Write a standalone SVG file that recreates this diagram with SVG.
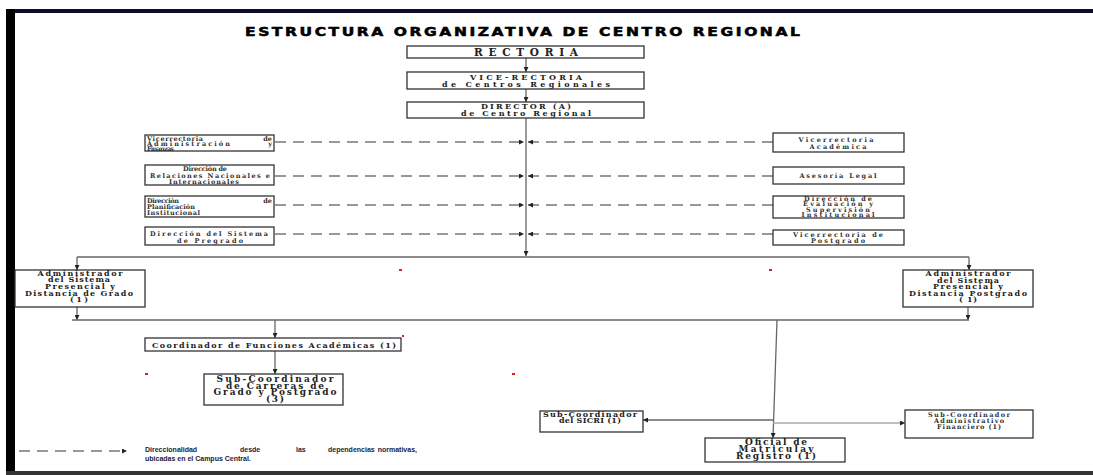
<svg xmlns="http://www.w3.org/2000/svg" width="1093" height="475" viewBox="0 0 1093 475">
<defs>
<marker id="ah" viewBox="0 0 6 6" refX="6" refY="3" markerWidth="5" markerHeight="5" orient="auto" markerUnits="userSpaceOnUse">
<path d="M0,0 L6,3 L0,6 z" fill="#222"/>
</marker>
<style>
.box{fill:#fff;stroke:#333;stroke-width:1.3}
.t{font-family:"DejaVu Serif","Liberation Serif",serif;font-weight:bold;fill:#222;text-anchor:middle}
.tl{font-family:"DejaVu Serif","Liberation Serif",serif;font-weight:bold;fill:#333}
.s{font-size:6.5px;fill:#333}
.m{font-size:8px}
.b{font-size:9px}
.sol{stroke:#666;stroke-width:1.3;fill:none}
.dash{stroke:#333;stroke-width:1;stroke-dasharray:11,7;fill:none}
.red{fill:#e21b1b}
</style>
</defs>
<rect width="1093" height="475" fill="#fff"/>
<g id="frame">
<rect x="6" y="9" width="1087" height="4" fill="#0b0b2a"/>
<rect x="6" y="9" width="9" height="463" fill="#000"/>
<rect x="6" y="471" width="1087" height="4" fill="#333"/>
</g>
<text transform="translate(245,35.5) scale(1.35,1)" x="0" y="0" font-family="DejaVu Sans, sans-serif" font-weight="bold" font-size="11.5" stroke="#000" stroke-width="0.5" textLength="411" lengthAdjust="spacing" fill="#000">ESTRUCTURA ORGANIZATIVA DE CENTRO REGIONAL</text>

<g id="connectors">
<line class="sol" x1="526" y1="58" x2="526" y2="72" marker-end="url(#ah)"/>
<line class="sol" x1="526" y1="89" x2="526" y2="102" marker-end="url(#ah)"/>
<line class="sol" x1="526" y1="118" x2="526" y2="256" marker-end="url(#ah)"/>
<line class="sol" x1="77" y1="257" x2="969" y2="257"/>
<line class="sol" x1="77" y1="257" x2="77" y2="270" marker-end="url(#ah)"/>
<line class="sol" x1="969" y1="257" x2="969" y2="270" marker-end="url(#ah)"/>
<line class="sol" x1="77" y1="307" x2="77" y2="320" marker-end="url(#ah)"/>
<line class="sol" x1="968" y1="307" x2="968" y2="320" marker-end="url(#ah)"/>
<line class="sol" x1="72" y1="320" x2="969" y2="320"/>
<line class="sol" x1="275" y1="320" x2="275" y2="338" marker-end="url(#ah)"/>
<line class="sol" x1="275" y1="351" x2="275" y2="374" marker-end="url(#ah)"/>
<line class="sol" x1="777" y1="320" x2="773" y2="438" marker-end="url(#ah)"/>
<line class="sol" x1="773" y1="420" x2="643" y2="420" marker-end="url(#ah)"/>
<line x1="773" y1="423" x2="905" y2="423" stroke="#aaa" stroke-width="1.3" marker-end="url(#ah)"/>
<line class="dash" x1="275" y1="142" x2="524" y2="142" marker-end="url(#ah)"/>
<line class="dash" x1="773" y1="142" x2="528" y2="142" marker-end="url(#ah)"/>
<line class="dash" x1="275" y1="176" x2="524" y2="176" marker-end="url(#ah)"/>
<line class="dash" x1="773" y1="176" x2="528" y2="176" marker-end="url(#ah)"/>
<line class="dash" x1="275" y1="205" x2="524" y2="205" marker-end="url(#ah)"/>
<line class="dash" x1="773" y1="205" x2="528" y2="205" marker-end="url(#ah)"/>
<line class="dash" x1="275" y1="234" x2="524" y2="234" marker-end="url(#ah)"/>
<line class="dash" x1="773" y1="234" x2="528" y2="234" marker-end="url(#ah)"/>
</g>

<g id="rectoria">
<rect class="box" x="407" y="46" width="237" height="12"/>
<text class="t" x="526" y="56" font-size="10.5" textLength="104" lengthAdjust="spacing">RECTORIA</text>
</g>
<g id="vicerrectoria-centros">
<rect class="box" x="407" y="72" width="237" height="17"/>
<text class="t m" x="526" y="79.5" textLength="112" lengthAdjust="spacing">VICE-RECTORIA</text>
<text class="t m" x="526" y="87" textLength="168" lengthAdjust="spacing">de Centros Regionales</text>
</g>
<g id="director">
<rect class="box" x="407" y="102" width="237" height="16"/>
<text class="t m" x="526" y="109" textLength="90" lengthAdjust="spacing">DIRECTOR (A)</text>
<text class="t m" x="526" y="116" textLength="130" lengthAdjust="spacing">de Centro Regional</text>
</g>

<g id="vr-administracion">
<rect class="box" x="145" y="135" width="129" height="16"/>
<text class="tl s" x="147" y="140.5" textLength="56" lengthAdjust="spacing">Vicerrectoria</text>
<text class="tl s" x="272" y="140.5" text-anchor="end">de</text>
<text class="tl s" x="147" y="145.5" textLength="83" lengthAdjust="spacing">Administración</text>
<text class="tl s" x="272" y="145.5" text-anchor="end">y</text>
<text class="tl s" x="147" y="150.5" textLength="27" lengthAdjust="spacing">Finanzas</text>
</g>
<g id="dir-relaciones">
<rect class="box" x="145" y="165" width="129" height="20"/>
<text class="t s" x="205" y="171" textLength="44" lengthAdjust="spacing">Dirección de</text>
<text class="t s" x="210" y="177.5" textLength="120" lengthAdjust="spacing">Relaciones Nacionales e</text>
<text class="t s" x="204" y="184" textLength="70" lengthAdjust="spacing">Internacionales</text>
</g>
<g id="dir-planificacion">
<rect class="box" x="145" y="196" width="129" height="21"/>
<text class="tl s" x="147" y="203" textLength="32" lengthAdjust="spacing">Dirección</text>
<text class="tl s" x="272" y="203" text-anchor="end">de</text>
<text class="tl s" x="147" y="209" textLength="48" lengthAdjust="spacing">Planificación</text>
<text class="tl s" x="147" y="215" textLength="53" lengthAdjust="spacing">Institucional</text>
</g>
<g id="dir-pregrado">
<rect class="box" x="145" y="227" width="129" height="18"/>
<text class="t s" x="209" y="236" textLength="118" lengthAdjust="spacing">Dirección del Sistema</text>
<text class="t s" x="210" y="242.5" textLength="66" lengthAdjust="spacing">de Pregrado</text>
</g>

<g id="vr-academica">
<rect class="box" x="773" y="133" width="131" height="19"/>
<text class="t s" x="836" y="142" textLength="75" lengthAdjust="spacing">Vicerrectoria</text>
<text class="t s" x="838" y="149" textLength="57" lengthAdjust="spacing">Académica</text>
</g>
<g id="asesoria-legal">
<rect class="box" x="773" y="167" width="131" height="17"/>
<text class="t s" x="838" y="178" textLength="77" lengthAdjust="spacing">Asesoría Legal</text>
</g>
<g id="dir-evaluacion">
<rect class="box" x="773" y="196" width="131" height="22"/>
<text class="t s" x="838" y="200.5" textLength="68" lengthAdjust="spacing">Dirección de</text>
<text class="t s" x="838" y="206" textLength="70" lengthAdjust="spacing">Evaluación y</text>
<text class="t s" x="838" y="211.5" textLength="64" lengthAdjust="spacing">Supervisión</text>
<text class="t s" x="838" y="217" textLength="73" lengthAdjust="spacing">Institucional</text>
</g>
<g id="vr-postgrado">
<rect class="box" x="773" y="230" width="131" height="15"/>
<text class="t s" x="838" y="236.5" textLength="90" lengthAdjust="spacing">Vicerrectoria de</text>
<text class="t s" x="838" y="243" textLength="54" lengthAdjust="spacing">Postgrado</text>
</g>

<g id="admin-grado">
<rect class="box" x="15" y="270" width="130" height="37"/>
<text class="t m" x="80" y="275.5" textLength="85" lengthAdjust="spacing">Administrador</text>
<text class="t m" x="79" y="282" textLength="62" lengthAdjust="spacing">del Sistema</text>
<text class="t m" x="80" y="289" textLength="70" lengthAdjust="spacing">Presencial y</text>
<text class="t m" x="79" y="295.5" textLength="108" lengthAdjust="spacing">Distancia de Grado</text>
<text class="t m" x="79" y="302" textLength="18" lengthAdjust="spacing">(1)</text>
</g>
<g id="admin-postgrado">
<rect class="box" x="903" y="270" width="130" height="37"/>
<text class="t m" x="968" y="275.5" textLength="85" lengthAdjust="spacing">Administrador</text>
<text class="t m" x="968" y="282.5" textLength="62" lengthAdjust="spacing">del Sistema</text>
<text class="t m" x="968" y="289" textLength="70" lengthAdjust="spacing">Presencial y</text>
<text class="t m" x="968" y="295.5" textLength="118" lengthAdjust="spacing">Distancia  Postgrado</text>
<text class="t m" x="968" y="302" textLength="18" lengthAdjust="spacing">( 1)</text>
</g>

<g id="coordinador-funciones">
<rect class="box" x="145" y="338" width="256" height="13"/>
<text class="t m" x="274" y="347.5" textLength="244" lengthAdjust="spacing">Coordinador de Funciones Académicas  (1)</text>
</g>
<g id="subcoordinador-carreras">
<rect class="box" x="204" y="374" width="139" height="31"/>
<text class="t b" x="275" y="382" textLength="117" lengthAdjust="spacing">Sub-Coordinador</text>
<text class="t b" x="275" y="388.5" textLength="98" lengthAdjust="spacing">de Carreras de</text>
<text class="t b" x="275" y="395" textLength="123" lengthAdjust="spacing">Grado y Postgrado</text>
<text class="t b" x="275" y="401.5" textLength="18" lengthAdjust="spacing">(3)</text>
</g>
<g id="subcoordinador-sicri">
<rect class="box" x="540" y="411" width="103" height="21"/>
<text class="t m" x="590" y="416.5" textLength="94" lengthAdjust="spacing">Sub-Coordinador</text>
<text class="t m" x="590" y="423" textLength="62" lengthAdjust="spacing">del SICRI (1)</text>
</g>
<g id="oficial-matricula">
<rect class="box" x="705" y="438" width="140" height="24"/>
<text class="t b" x="776" y="445" textLength="62" lengthAdjust="spacing">Oficial de</text>
<text class="t b" x="776" y="452" textLength="75" lengthAdjust="spacing">Matriculay</text>
<text class="t b" x="776" y="459" textLength="80" lengthAdjust="spacing">Registro (1)</text>
</g>
<g id="subcoordinador-admin">
<rect class="box" x="905" y="410" width="128" height="28"/>
<text class="t s" x="969" y="417" textLength="82" lengthAdjust="spacing">Sub-Coordinador</text>
<text class="t s" x="969" y="423" textLength="70" lengthAdjust="spacing">Administrativo</text>
<text class="t s" x="969" y="429" textLength="64" lengthAdjust="spacing">Financiero (1)</text>
</g>

<g id="legend">
<line class="dash" x1="19" y1="451" x2="127" y2="451" marker-end="url(#ah)"/>
<g font-family="Liberation Sans, Arial, sans-serif" font-size="7" font-weight="bold" fill="#1c1c3c">
<text x="145" y="452">Direccionalidad</text>
<text x="240" y="452">desde</text>
<text x="296" y="452">las</text>
<text x="328" y="452">dependencias</text>
<text x="417" y="452" text-anchor="end">normativas,</text>
<text x="145" y="461">ubicadas en el Campus Central.</text>
</g>
</g>

<g id="specks">
<rect class="red" x="399" y="269" width="3" height="2"/>
<rect class="red" x="769" y="269" width="3" height="2"/>
<rect class="red" x="145" y="373" width="3" height="2"/>
<rect class="red" x="512" y="373" width="3" height="2"/>
<rect class="red" x="402" y="335" width="2" height="2"/>
</g>
</svg>
